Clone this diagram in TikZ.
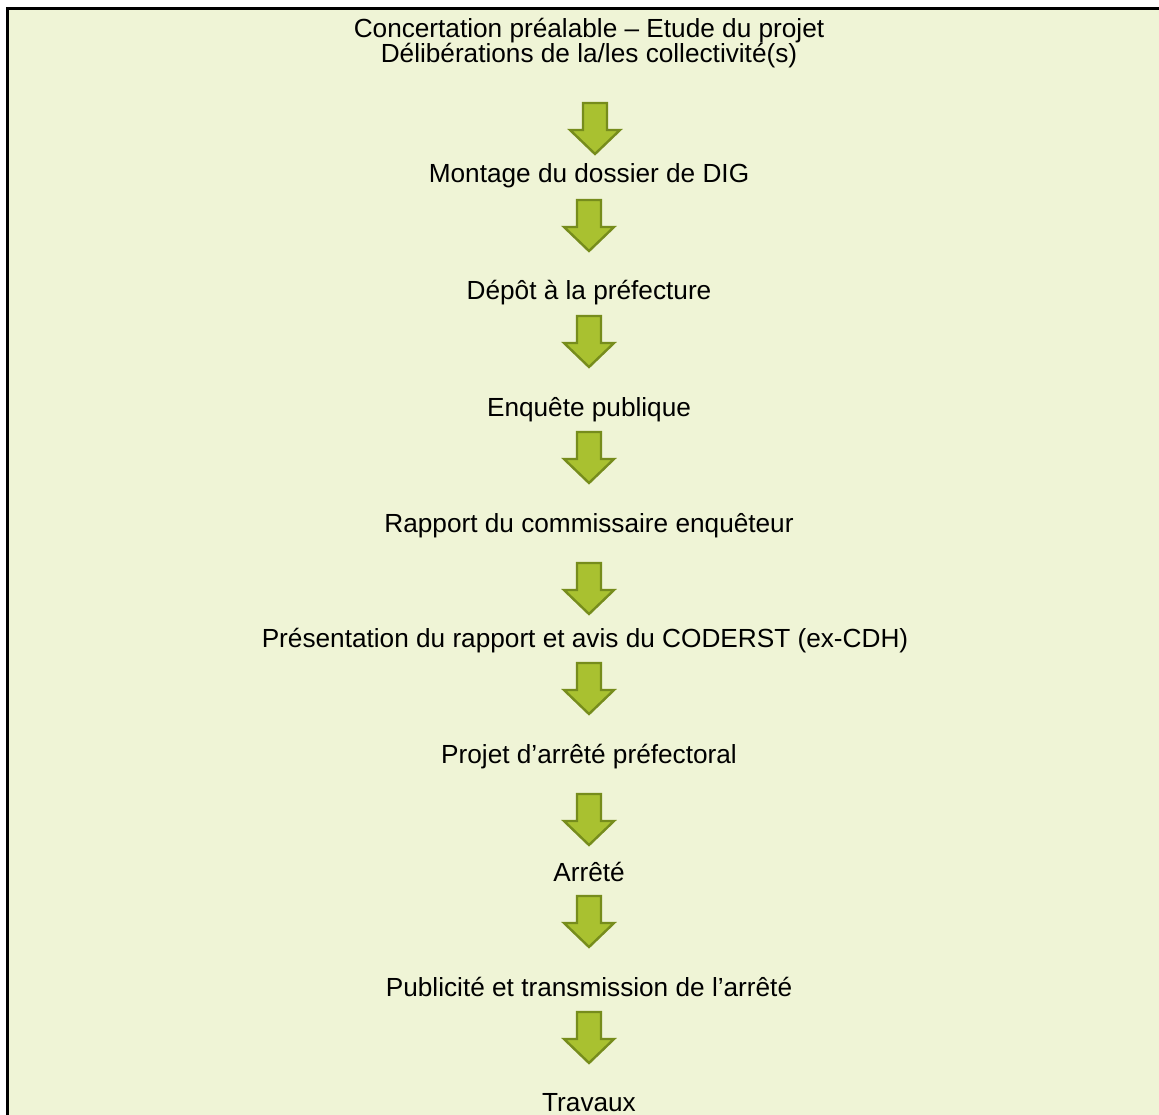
\documentclass[tikz,border=0pt]{standalone}
\usepackage{fontspec}
\setmainfont{Liberation Sans}
\definecolor{panelfill}{RGB}{239,244,214}
\definecolor{arrowfill}{RGB}{169,193,48}
\definecolor{arrowline}{RGB}{118,140,28}

\begin{document}
\begin{tikzpicture}[x=1pt,y=-1pt,
  stage/.style={anchor=base,inner sep=0pt,font=\fontsize{26.2}{25}\selectfont},
  downarrow/.style={fill=arrowfill,draw=arrowline,line width=2.4pt,line join=miter}]
  \useasboundingbox (0,0) rectangle (1159,1115);
  % Background panel, cut by the page on the right and at the bottom.
  \filldraw[fill=panelfill,line width=3pt] (7,9) rectangle (1164,1120);
  % Steps of the procedure (two-line node: base is its last line).
  \node[stage,align=center] (s1) at (589,63) {Concertation préalable – Etude du projet\\Délibérations de la/les collectivité(s)};
  \node[stage] (s2) at (589,183) {Montage du dossier de DIG};
  \node[stage] (s3) at (589,300) {Dépôt à la préfecture};
  \node[stage] (s4) at (589,416) {Enquête publique};
  \node[stage] (s5) at (589,532) {Rapport du commissaire enquêteur};
  \node[stage] (s6) at (585,647) {Présentation du rapport et avis du CODERST (ex-CDH)};
  \node[stage] (s7) at (589,763) {Projet d’arrêté préfectoral};
  \node[stage] (s8) at (589,881) {Arrêté};
  \node[stage] (s9) at (589,996) {Publicité et transmission de l’arrêté};
  \node[stage] (s10) at (589,1111) {Travaux};
  % Block arrows between the steps (x of the tip, y of the top).
  \foreach \x/\y in {595/103,589/200,589/316,589/432,589/563,589/663,589/794,589/896,589/1012} {
    \filldraw[downarrow] (\x-12,\y) -- (\x+12,\y) -- (\x+12,\y+27) -- (\x+25,\y+27)
      -- (\x,\y+51) -- (\x-25,\y+27) -- (\x-12,\y+27) -- cycle;
  }
\end{tikzpicture}
\end{document}
